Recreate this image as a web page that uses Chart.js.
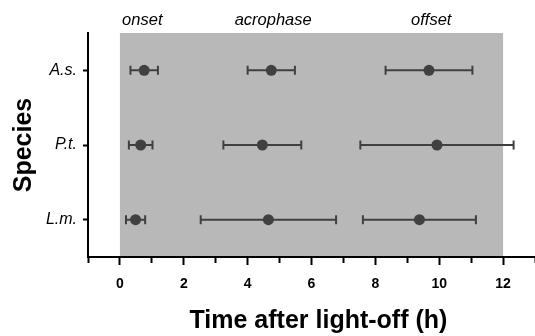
<!DOCTYPE html>
<html>
<head>
<meta charset="utf-8">
<script src="https://cdn.jsdelivr.net/npm/chart.js@4/dist/chart.umd.min.js"></script>
<style>
  html, body { margin: 0; padding: 0; background: #fff; }
  canvas { display: block; }
</style>
</head>
<body>
<canvas id="phaseChart" width="535" height="336"></canvas>
<script>
// species on the y axis, top to bottom
const species = ['A.s.', 'P.t.', 'L.m.'];

// mean time (h after light-off) and error for each rhythm marker
const onsetMean = [0.76, 0.65, 0.49];
const onsetErr = [0.43, 0.37, 0.30];
const acroMean = [4.74, 4.46, 4.65];
const acroErr = [0.74, 1.22, 2.12];
const offsetMean = [9.68, 9.93, 9.38];
const offsetErr = [1.36, 2.40, 1.77];

// labels along the top and where they sit on the time axis
const phaseNames = ['onset', 'acrophase', 'offset'];
const phasePos = [0.7, 4.8, 9.75];

// dark phase (h)
const darkPeriod = [0, 12];

const xRange = [-1, 13];

Chart.defaults.font.family = '"Liberation Sans", Arial, Helvetica, sans-serif';
Chart.defaults.color = '#000';

function toPoints(means) {
    return means.map((m, i) => ({ x: m, y: i }));
}

function makeSet(label, means, errs) {
    return {
        label: label,
        data: toPoints(means),
        errors: errs,
        pointRadius: 5.5,
        pointHoverRadius: 5.5,
        pointBackgroundColor: '#404040',
        pointBorderColor: '#404040',
        pointBorderWidth: 0,
        showLine: false
    };
}

const darkPhase = {
    id: 'darkPhase',
    beforeDraw(chart) {
        const ctx = chart.ctx;
        const x = chart.scales.x;
        const area = chart.chartArea;
        const x0 = x.getPixelForValue(darkPeriod[0]);
        const x1 = x.getPixelForValue(darkPeriod[1]);
        ctx.save();
        ctx.fillStyle = '#b8b8b9';
        ctx.fillRect(x0, area.top, x1 - x0, area.bottom - area.top);
        ctx.restore();
    }
};

// horizontal error bars with end caps, drawn under the points
const errorBars = {
    id: 'errorBars',
    beforeDatasetsDraw(chart) {
        const ctx = chart.ctx;
        const x = chart.scales.x;
        const y = chart.scales.y;
        ctx.save();
        ctx.strokeStyle = '#404040';
        ctx.lineWidth = 2;
        chart.data.datasets.forEach(ds => {
            ds.data.forEach((p, i) => {
                const e = ds.errors[i];
                const xl = x.getPixelForValue(p.x - e);
                const xr = x.getPixelForValue(p.x + e);
                const py = y.getPixelForValue(p.y);
                ctx.beginPath();
                ctx.moveTo(xl, py);
                ctx.lineTo(xr, py);
                ctx.moveTo(xl, py - 4.5);
                ctx.lineTo(xl, py + 4.5);
                ctx.moveTo(xr, py - 4.5);
                ctx.lineTo(xr, py + 4.5);
                ctx.stroke();
            });
        });
        ctx.restore();
    }
};

new Chart(document.getElementById('phaseChart'), {
    type: 'scatter',
    data: {
        datasets: [
            makeSet('onset', onsetMean, onsetErr),
            makeSet('acrophase', acroMean, acroErr),
            makeSet('offset', offsetMean, offsetErr)
        ]
    },
    options: {
        responsive: false,
        animation: false,
        devicePixelRatio: 1,
        layout: { padding: 0, autoPadding: false },
        plugins: {
            legend: { display: false },
            tooltip: { enabled: false }
        },
        scales: {
            x: {
                type: 'linear',
                position: 'bottom',
                min: xRange[0],
                max: xRange[1],
                grid: {
                    drawOnChartArea: false,
                    tickLength: 8,
                    tickWidth: 2,
                    tickColor: '#000',
                    // odd hours get a shorter tick
                    tickBorderDash: c => (c.tick && Math.abs(c.tick.value % 2) === 1) ? [5, 20] : []
                },
                border: { color: '#000', width: 2 },
                ticks: {
                    stepSize: 1,
                    autoSkip: false,
                    maxRotation: 0,
                    padding: 11,
                    font: { size: 14, weight: 'bold' },
                    callback: v => (v >= 0 && v <= 12 && v % 2 === 0) ? String(v) : ''
                },
                title: {
                    display: true,
                    text: '  Time after light-off (h)',
                    font: { size: 25, weight: 'bold', lineHeight: 1 },
                    padding: { top: 0, bottom: 2 }
                },
                afterFit(scale) {
                    scale.height = 79;
                    scale.paddingLeft = 0;
                    scale.paddingRight = 0;
                }
            },
            phase: {
                type: 'linear',
                position: 'top',
                min: xRange[0],
                max: xRange[1],
                grid: { display: false, drawTicks: false },
                border: { display: false },
                afterBuildTicks(scale) {
                    scale.ticks = phasePos.map(v => ({ value: v }));
                },
                ticks: {
                    autoSkip: false,
                    maxRotation: 0,
                    padding: 3,
                    font: { size: 16.5, style: 'italic' },
                    callback: (v, i) => phaseNames[i]
                },
                afterFit(scale) {
                    scale.height = 33;
                    scale.paddingLeft = 0;
                    scale.paddingRight = 0;
                }
            },
            y: {
                type: 'linear',
                reverse: true,
                min: -0.5,
                max: species.length - 0.5,
                grid: {
                    drawOnChartArea: false,
                    tickLength: 5,
                    tickWidth: 2,
                    tickColor: '#000'
                },
                border: { color: '#000', width: 2 },
                afterBuildTicks(scale) {
                    scale.ticks = species.map((s, i) => ({ value: i }));
                },
                ticks: {
                    autoSkip: false,
                    padding: 6,
                    font: { size: 16, style: 'italic' },
                    callback: v => species[v]
                },
                title: {
                    display: true,
                    text: 'Species',
                    font: { size: 25, weight: 'bold', lineHeight: 1 },
                    padding: { top: 12, bottom: 0 }
                },
                afterFit(scale) {
                    scale.width = 88;
                }
            }
        }
    },
    plugins: [darkPhase, errorBars]
});
</script>
</body>
</html>
